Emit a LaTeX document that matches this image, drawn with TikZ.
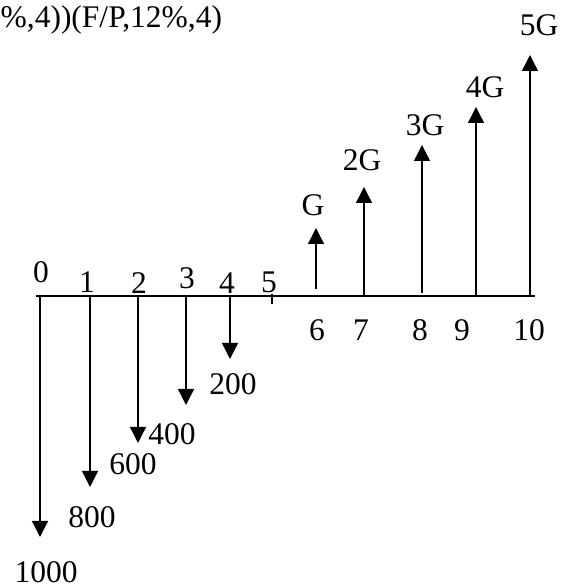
\documentclass[tikz,border=0pt]{standalone}
\usepackage{fontspec}
\setmainfont{Liberation Serif}
\usepackage{tikz}
\usetikzlibrary{arrows.meta}
\definecolor{Ink}{HTML}{000000}

\begin{document}
\begin{tikzpicture}[x=1pt, y=1pt, line width=1.3pt, draw=Ink,
        font=\fontsize{31.5}{36}\selectfont,
        flow/.style={-{Triangle[length=16pt, width=16pt]}},
        lbl/.style={inner sep=0pt, text=Ink}]
            \useasboundingbox (0,0) rectangle (572,588);
            % time axis
            \coordinate (left) at (36,292);
            \coordinate (right) at (535,292);
            \draw (left) -- (right);
            \coordinate (tickA) at (272,294);
            \coordinate (tickB) at (272,284);
            \draw (tickA) -- (tickB);
            % outflows
            \coordinate (b0) at (40,292);  \coordinate (e0) at (40,51);
            \coordinate (b1) at (90,292);  \coordinate (e1) at (90,101);
            \coordinate (b2) at (138,292); \coordinate (e2) at (138,145);
            \coordinate (b3) at (186,292); \coordinate (e3) at (186,183);
            \coordinate (b4) at (230,292); \coordinate (e4) at (230,229);
            \draw[flow] (b0) -- (e0);
            \draw[flow] (b1) -- (e1);
            \draw[flow] (b2) -- (e2);
            \draw[flow] (b3) -- (e3);
            \draw[flow] (b4) -- (e4);
            % inflows
            \coordinate (b6) at (316,299);  \coordinate (e6) at (316,360);
            \coordinate (b7) at (364,292);  \coordinate (e7) at (364,401);
            \coordinate (b8) at (422,295);  \coordinate (e8) at (422,443);
            \coordinate (b9) at (476,292);  \coordinate (e9) at (476,481);
            \coordinate (b10) at (530,292); \coordinate (e10) at (530,533);
            \draw[flow] (b6) -- (e6);
            \draw[flow] (b7) -- (e7);
            \draw[flow] (b8) -- (e8);
            \draw[flow] (b9) -- (e9);
            \draw[flow] (b10) -- (e10);
            % period numbers
            \node[lbl] (n0) at (41,316) {0};
            \node[lbl] (n1) at (87,306) {1};
            \node[lbl] (n2) at (139,305) {2};
            \node[lbl] (n3) at (187,310) {3};
            \node[lbl] (n4) at (227,305) {4};
            \node[lbl] (n5) at (269,306) {5};
            \node[lbl] (n6) at (317,258) {6};
            \node[lbl] (n7) at (361,258) {7};
            \node[lbl] (n8) at (420,258) {8};
            \node[lbl] (n9) at (462,258) {9};
            \node[lbl] (n10) at (529,258) {10};
            % amounts
            \node[lbl] (a0) at (46,16) {1000};
            \node[lbl] (a1) at (92,71) {800};
            \node[lbl] (a2) at (133,124) {600};
            \node[lbl] (a3) at (172,154) {400};
            \node[lbl] (a4) at (233,204) {200};
            \node[lbl] (g6) at (313,383) {G};
            \node[lbl] (g7) at (362,428) {2G};
            \node[lbl] (g8) at (425,463) {3G};
            \node[lbl] (g9) at (485,501) {4G};
            \node[lbl] (g10) at (539,563) {5G};
            % formula
            \node[lbl, anchor=base west] (formula) at (0,560) {\%,4))(F/P,12\%,4)};
        \end{tikzpicture}
\end{document}
